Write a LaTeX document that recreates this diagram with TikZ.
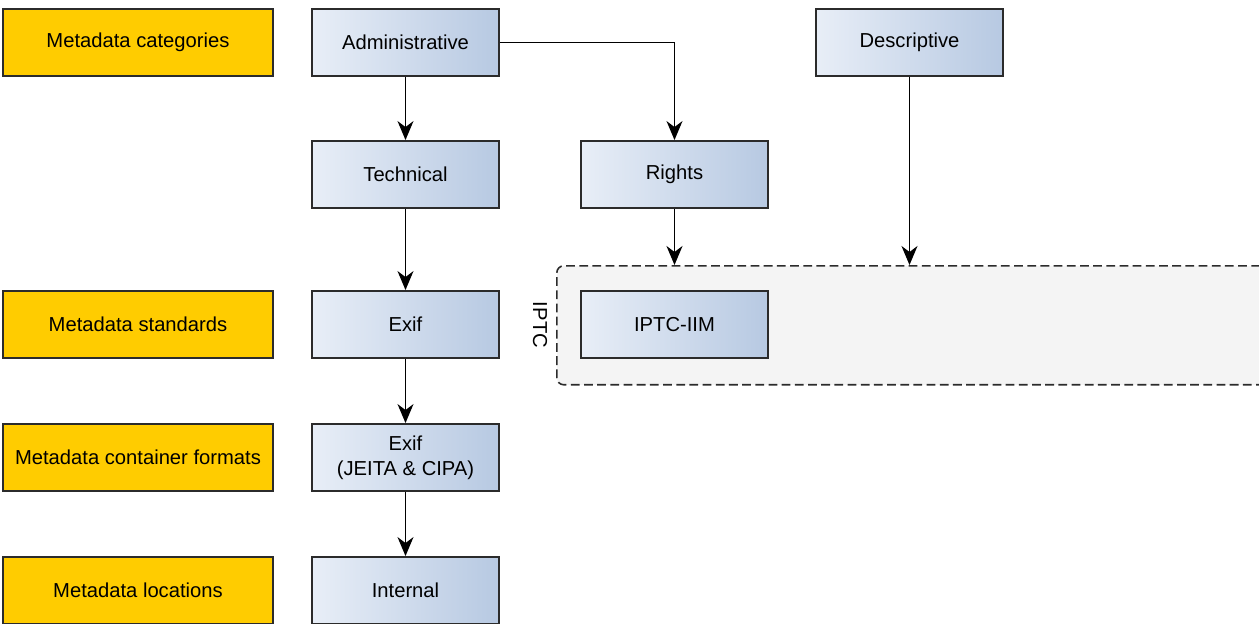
\documentclass[tikz,border=0pt]{standalone}
\usepackage{fontspec}
\setmainfont{Liberation Sans}
\usetikzlibrary{arrows.meta}
\definecolor{catyellow}{HTML}{FFCC00}
\definecolor{boxleft}{HTML}{E8EEF7}
\definecolor{boxright}{HTML}{B7C9E2}
\definecolor{grpfill}{HTML}{F4F4F4}
\definecolor{edgegray}{HTML}{2B2B2B}
\tikzset{
  layer/.style={draw=edgegray, line width=1.1pt, fill=catyellow, minimum width=5.4cm, minimum height=1.34cm, font=\fontsize{11.5}{14}\selectfont},
  mdbox/.style={draw=edgegray, line width=1.1pt, left color=boxleft, right color=boxright, minimum width=3.74cm, minimum height=1.34cm, align=center, font=\fontsize{11.5}{14}\selectfont},
  grp/.style={draw=edgegray, dash pattern=on 5pt off 2.5pt, line width=0.9pt, fill=grpfill, rounded corners=4pt, anchor=north west, minimum width=15cm, minimum height=2.38cm},
  link/.style={draw=black, line width=0.8pt, -{Stealth[length=0.38cm, width=0.32cm, inset=0.12cm]}}
}

\begin{document}
\begin{tikzpicture}[x=0.02cm, y=-0.02cm]
			%%%%% START %%%%%
			
			\useasboundingbox (0, 0) rectangle (1259, 623);
			\clip (0, 0) rectangle (1259, 623);
			
			% left column: layers
			\node[layer] (cat) at (138, 42.5) {Metadata categories};
			\node[layer] (std) at (138, 324.5) {Metadata standards};
			\node[layer] (cont) at (138, 457.5) {Metadata container formats};
			\node[layer] (loc) at (138, 590.5) {Metadata locations};
			
			% IPTC group
			\node[grp] (iptc) at (556, 265) {};
			\node[rotate=-90, font=\fontsize{11.5}{14}\selectfont] (iptclbl) at (540, 325) {IPTC};
			
			% categories
			\node[mdbox] (adm) at (405.5, 42.5) {Administrative};
			\node[mdbox] (desc) at (909.5, 42.5) {Descriptive};
			\node[mdbox] (tech) at (405.5, 174.5) {Technical};
			\node[mdbox] (rights) at (674.5, 174.5) {Rights};
			
			% standards, containers, locations
			\node[mdbox] (exif) at (405.5, 324.5) {Exif};
			\node[mdbox] (iim) at (674.5, 324.5) {IPTC-IIM};
			\node[mdbox] (jeita) at (405.5, 457.5) {Exif\\(JEITA \& CIPA)};
			\node[mdbox] (intl) at (405.5, 590.5) {Internal};
			
			\draw[link] (adm) -- (tech);
			\draw[link] (adm.east) -| (rights.north);
			\draw[link] (tech) -- (exif);
			\draw[link] (rights.south) -- (rights.south |- iptc.north);
			\draw[link] (desc.south) -- (desc.south |- iptc.north);
			\draw[link] (exif) -- (jeita);
			\draw[link] (jeita) -- (intl);
			
			%%%%% END %%%%%
\end{tikzpicture}
\end{document}
